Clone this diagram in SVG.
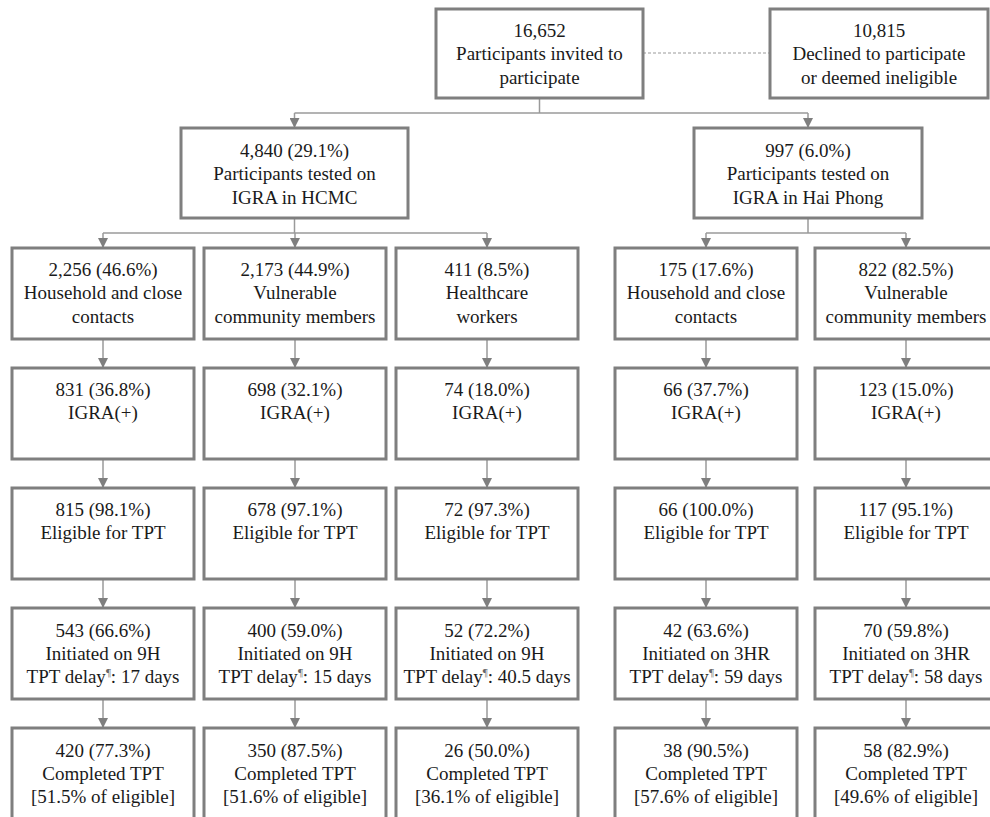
<svg xmlns="http://www.w3.org/2000/svg" width="990" height="817" viewBox="0 0 990 817">
<defs>
<marker id="ah" markerUnits="userSpaceOnUse" markerWidth="10" markerHeight="10" refX="10" refY="5" orient="auto">
<path d="M0,0 L10,5 L0,10 z" fill="#7f7f7f"/>
</marker>
<style>
.box{fill:#fff;stroke:#7f7f7f;stroke-width:3}
.t{font-size:19px;fill:#1a1a1a;text-anchor:middle}
.c{fill:none;stroke:#9a9a9a;stroke-width:1.5}
.a{fill:none;stroke:#9a9a9a;stroke-width:1.5;marker-end:url(#ah)}
.d{fill:none;stroke:#999;stroke-width:1;stroke-dasharray:3,2}
.s{font-size:11px;fill:#666}
</style>
</defs>
<rect width="990" height="817" fill="#fff"/>
<g id="connectors">
<path class="d" d="M643,53 H770"/>
<path class="c" d="M539.5,98 V113 M294.5,113 H808"/>
<path class="a" d="M294.5,113 V128"/>
<path class="a" d="M808,113 V128"/>
<path class="c" d="M294.5,218 V233 M103,233 H487"/>
<path class="a" d="M103,233 V248"/>
<path class="a" d="M295,233 V248"/>
<path class="a" d="M487,233 V248"/>
<path class="c" d="M808,218 V233 M706,233 H906"/>
<path class="a" d="M706,233 V248"/>
<path class="a" d="M906,233 V248"/>
<path class="a" d="M103,339 V368"/><path class="a" d="M295,339 V368"/><path class="a" d="M487,339 V368"/><path class="a" d="M706,339 V368"/><path class="a" d="M906,339 V368"/>
<path class="a" d="M103,459 V488"/><path class="a" d="M295,459 V488"/><path class="a" d="M487,459 V488"/><path class="a" d="M706,459 V488"/><path class="a" d="M906,459 V488"/>
<path class="a" d="M103,579 V608"/><path class="a" d="M295,579 V608"/><path class="a" d="M487,579 V608"/><path class="a" d="M706,579 V608"/><path class="a" d="M906,579 V608"/>
<path class="a" d="M103,699 V728"/><path class="a" d="M295,699 V728"/><path class="a" d="M487,699 V728"/><path class="a" d="M706,699 V728"/><path class="a" d="M906,699 V728"/>
</g>
<g font-family="Liberation Serif, Tinos, Times New Roman, DejaVu Serif, serif">
<g id="invited"><rect class="box" x="436" y="9" width="207" height="89"/>
<text class="t" x="539.5" y="37">16,652</text><text class="t" x="539.5" y="60">Participants invited to</text><text class="t" x="539.5" y="84">participate</text></g>
<g id="declined"><rect class="box" x="770" y="9" width="218" height="89"/>
<text class="t" x="879" y="37">10,815</text><text class="t" x="879" y="60">Declined to participate</text><text class="t" x="879" y="84">or deemed ineligible</text></g>
<g id="hcmc"><rect class="box" x="181" y="128" width="227" height="90"/>
<text class="t" x="294.5" y="157">4,840 (29.1%)</text><text class="t" x="294.5" y="180">Participants tested on</text><text class="t" x="294.5" y="204">IGRA in HCMC</text></g>
<g id="haiphong"><rect class="box" x="694" y="128" width="228" height="90"/>
<text class="t" x="808" y="157">997 (6.0%)</text><text class="t" x="808" y="180">Participants tested on</text><text class="t" x="808" y="204">IGRA in Hai Phong</text></g>

<g id="c1r1"><rect class="box" x="12" y="248" width="182" height="91"/>
<text class="t" x="103" y="276">2,256 (46.6%)</text><text class="t" x="103" y="299">Household and close</text><text class="t" x="103" y="323">contacts</text></g>
<g id="c2r1"><rect class="box" x="204" y="248" width="182" height="91"/>
<text class="t" x="295" y="276">2,173 (44.9%)</text><text class="t" x="295" y="299">Vulnerable</text><text class="t" x="295" y="323">community members</text></g>
<g id="c3r1"><rect class="box" x="396" y="248" width="182" height="91"/>
<text class="t" x="487" y="276">411 (8.5%)</text><text class="t" x="487" y="299">Healthcare</text><text class="t" x="487" y="323">workers</text></g>
<g id="c4r1"><rect class="box" x="615" y="248" width="182" height="91"/>
<text class="t" x="706" y="276">175 (17.6%)</text><text class="t" x="706" y="299">Household and close</text><text class="t" x="706" y="323">contacts</text></g>
<g id="c5r1"><rect class="box" x="815" y="248" width="182" height="91"/>
<text class="t" x="906" y="276">822 (82.5%)</text><text class="t" x="906" y="299">Vulnerable</text><text class="t" x="906" y="323">community members</text></g>

<g id="c1r2"><rect class="box" x="12" y="368" width="182" height="91"/>
<text class="t" x="103" y="396">831 (36.8%)</text><text class="t" x="103" y="419">IGRA(+)</text></g>
<g id="c2r2"><rect class="box" x="204" y="368" width="182" height="91"/>
<text class="t" x="295" y="396">698 (32.1%)</text><text class="t" x="295" y="419">IGRA(+)</text></g>
<g id="c3r2"><rect class="box" x="396" y="368" width="182" height="91"/>
<text class="t" x="487" y="396">74 (18.0%)</text><text class="t" x="487" y="419">IGRA(+)</text></g>
<g id="c4r2"><rect class="box" x="615" y="368" width="182" height="91"/>
<text class="t" x="706" y="396">66 (37.7%)</text><text class="t" x="706" y="419">IGRA(+)</text></g>
<g id="c5r2"><rect class="box" x="815" y="368" width="182" height="91"/>
<text class="t" x="906" y="396">123 (15.0%)</text><text class="t" x="906" y="419">IGRA(+)</text></g>

<g id="c1r3"><rect class="box" x="12" y="488" width="182" height="91"/>
<text class="t" x="103" y="516">815 (98.1%)</text><text class="t" x="103" y="539">Eligible for TPT</text></g>
<g id="c2r3"><rect class="box" x="204" y="488" width="182" height="91"/>
<text class="t" x="295" y="516">678 (97.1%)</text><text class="t" x="295" y="539">Eligible for TPT</text></g>
<g id="c3r3"><rect class="box" x="396" y="488" width="182" height="91"/>
<text class="t" x="487" y="516">72 (97.3%)</text><text class="t" x="487" y="539">Eligible for TPT</text></g>
<g id="c4r3"><rect class="box" x="615" y="488" width="182" height="91"/>
<text class="t" x="706" y="516">66 (100.0%)</text><text class="t" x="706" y="539">Eligible for TPT</text></g>
<g id="c5r3"><rect class="box" x="815" y="488" width="182" height="91"/>
<text class="t" x="906" y="516">117 (95.1%)</text><text class="t" x="906" y="539">Eligible for TPT</text></g>

<g id="c1r4"><rect class="box" x="12" y="608" width="182" height="91"/>
<text class="t" x="103" y="637">543 (66.6%)</text><text class="t" x="103" y="660">Initiated on 9H</text><text class="t" x="103" y="683">TPT delay<tspan class="s" dy="-7">¶</tspan><tspan dy="7">: 17 days</tspan></text></g>
<g id="c2r4"><rect class="box" x="204" y="608" width="182" height="91"/>
<text class="t" x="295" y="637">400 (59.0%)</text><text class="t" x="295" y="660">Initiated on 9H</text><text class="t" x="295" y="683">TPT delay<tspan class="s" dy="-7">¶</tspan><tspan dy="7">: 15 days</tspan></text></g>
<g id="c3r4"><rect class="box" x="396" y="608" width="182" height="91"/>
<text class="t" x="487" y="637">52 (72.2%)</text><text class="t" x="487" y="660">Initiated on 9H</text><text class="t" x="487" y="683">TPT delay<tspan class="s" dy="-7">¶</tspan><tspan dy="7">: 40.5 days</tspan></text></g>
<g id="c4r4"><rect class="box" x="615" y="608" width="182" height="91"/>
<text class="t" x="706" y="637">42 (63.6%)</text><text class="t" x="706" y="660">Initiated on 3HR</text><text class="t" x="706" y="683">TPT delay<tspan class="s" dy="-7">¶</tspan><tspan dy="7">: 59 days</tspan></text></g>
<g id="c5r4"><rect class="box" x="815" y="608" width="182" height="91"/>
<text class="t" x="906" y="637">70 (59.8%)</text><text class="t" x="906" y="660">Initiated on 3HR</text><text class="t" x="906" y="683">TPT delay<tspan class="s" dy="-7">¶</tspan><tspan dy="7">: 58 days</tspan></text></g>

<g id="c1r5"><rect class="box" x="12" y="728" width="182" height="100"/>
<text class="t" x="103" y="757">420 (77.3%)</text><text class="t" x="103" y="780">Completed TPT</text><text class="t" x="103" y="803">[51.5% of eligible]</text></g>
<g id="c2r5"><rect class="box" x="204" y="728" width="182" height="100"/>
<text class="t" x="295" y="757">350 (87.5%)</text><text class="t" x="295" y="780">Completed TPT</text><text class="t" x="295" y="803">[51.6% of eligible]</text></g>
<g id="c3r5"><rect class="box" x="396" y="728" width="182" height="100"/>
<text class="t" x="487" y="757">26 (50.0%)</text><text class="t" x="487" y="780">Completed TPT</text><text class="t" x="487" y="803">[36.1% of eligible]</text></g>
<g id="c4r5"><rect class="box" x="615" y="728" width="182" height="100"/>
<text class="t" x="706" y="757">38 (90.5%)</text><text class="t" x="706" y="780">Completed TPT</text><text class="t" x="706" y="803">[57.6% of eligible]</text></g>
<g id="c5r5"><rect class="box" x="815" y="728" width="182" height="100"/>
<text class="t" x="906" y="757">58 (82.9%)</text><text class="t" x="906" y="780">Completed TPT</text><text class="t" x="906" y="803">[49.6% of eligible]</text></g>
</g>
</svg>
